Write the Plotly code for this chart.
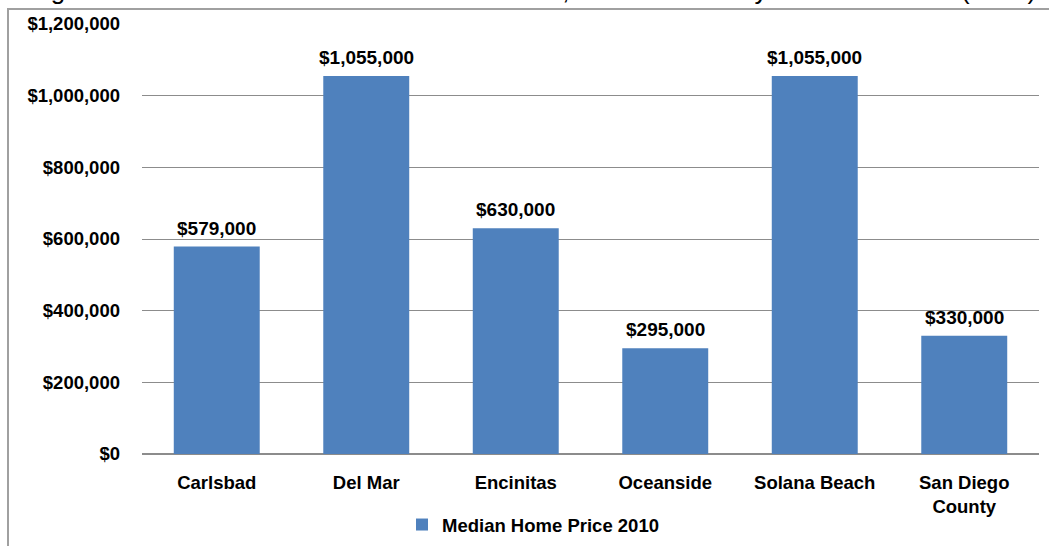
import plotly.graph_objects as go

categories = ["Carlsbad", "Del Mar", "Encinitas", "Oceanside", "Solana Beach", "San Diego<br>County"]
values = [579000, 1055000, 630000, 295000, 1055000, 330000]
series_name = "Median Home Price 2010"
tick_vals = [0, 200000, 400000, 600000, 800000, 1000000, 1200000]
tick_text = ["$0", "$200,000", "$400,000", "$600,000", "$800,000", "$1,000,000", "$1,200,000"]
title_text = "Figure 6: Median Home Price in Coastal Cities, Northern County and Entire Area (2010)"

FONT = "Liberation Sans, Arial, sans-serif"
W, H = 1049, 546
ML, MR, MT, MB = 142, 10, 24, 92
PW, PH = W - ML - MR, H - MT - MB

def px_x(p):
    return (p - ML) / PW

def px_y(p):
    return (H - MB - p) / PH

fig = go.Figure()
fig.add_trace(go.Bar(
    x=categories, y=values, name=series_name,
    marker=dict(color="#4F81BD", line=dict(width=0)),
    showlegend=True,
))

for c, v in zip(categories, values):
    fig.add_annotation(
        x=c, y=v, xref="x", yref="y", text="${:,.0f}".format(v),
        showarrow=False, yanchor="bottom", yshift=6,
        font=dict(family=FONT, size=19, color="#000000", weight="bold"),
    )

# clipped title at the very top
fig.add_annotation(
    x=px_x(27), y=px_y(7), xref="paper", yref="paper", text=title_text,
    showarrow=False, xanchor="left", yanchor="bottom",
    font=dict(family=FONT, size=26, color="#000000"),
)

# chart-area frame (extends beyond the visible page)
fig.add_shape(
    type="path", xref="paper", yref="paper",
    path="M {x0} {y0} L {x0} {y1} L {x2} {y1}".format(
        x0=px_x(8), y0=px_y(560), y1=px_y(9), x2=px_x(1060)),
    line=dict(color="#A0A0A0", width=2),
)

fig.update_layout(
    width=W, height=H,
    margin=dict(l=ML, r=MR, t=MT, b=MB, pad=0, autoexpand=False),
    paper_bgcolor="white", plot_bgcolor="white",
    bargap=0.425,
    font=dict(family=FONT, color="#000000"),
    legend=dict(
        orientation="h", x=px_x(402), y=px_y(506), xanchor="left", yanchor="top",
        font=dict(family=FONT, size=18.5, color="#000000", weight="bold"),
        itemwidth=30, bgcolor="rgba(0,0,0,0)",
    ),
    xaxis=dict(
        showgrid=False, showline=False, ticks="", automargin=False,
        tickfont=dict(family=FONT, size=18.5, color="#000000", weight="bold"),
        ticklabelstandoff=15,
    ),
    yaxis=dict(
        range=[0, 1200000], tickvals=tick_vals, ticktext=tick_text,
        showgrid=True, gridcolor="#8C8C8C", gridwidth=1,
        zeroline=True, zerolinecolor="#8C8C8C", zerolinewidth=2,
        showline=False, ticks="", automargin=False,
        tickfont=dict(family=FONT, size=18.5, color="#000000", weight="bold"),
        ticklabelstandoff=21,
    ),
)

fig.write_html("out.html")
